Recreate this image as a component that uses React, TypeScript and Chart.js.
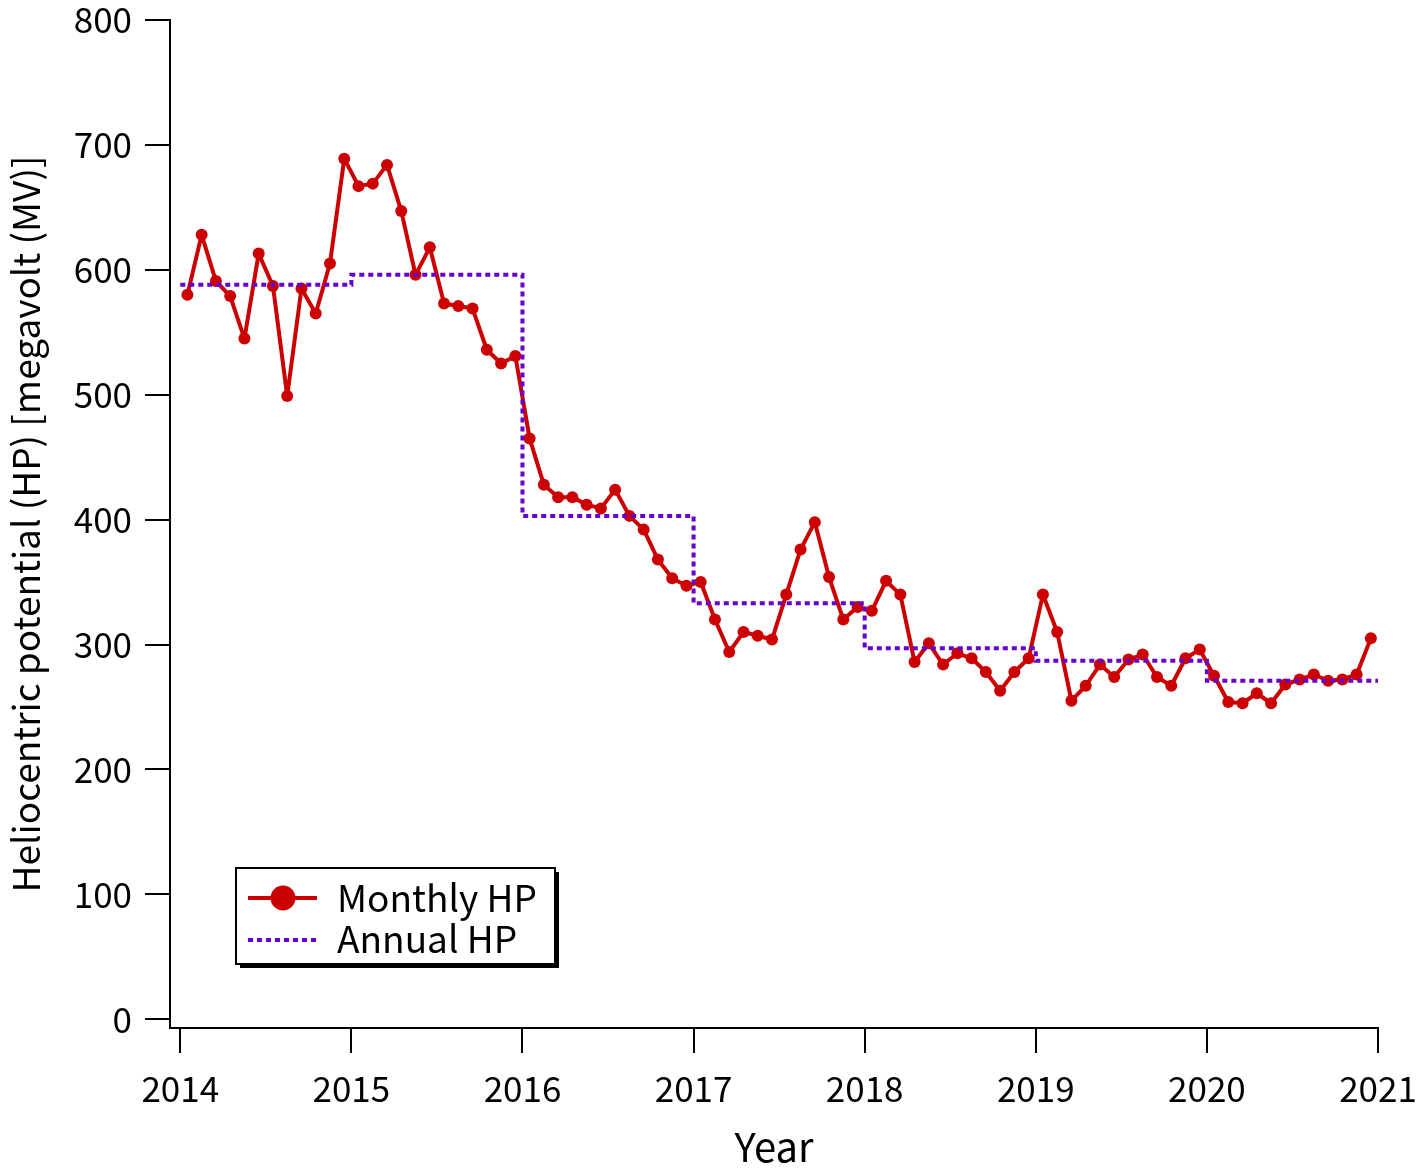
import React, { useEffect, useRef } from 'react';
import { Chart, registerables } from 'chart.js';

Chart.register(...registerables);

const years = [2014, 2015, 2016, 2017, 2018, 2019, 2020];

const hp2014 = [580, 628, 591, 579, 545, 613, 587, 499, 585, 565, 605, 689];
const hp2015 = [667, 669, 684, 647, 596, 618, 573, 571, 569, 536, 525, 531];
const hp2016 = [465, 428, 418, 418, 412, 409, 424, 403, 392, 368, 353, 347];
const hp2017 = [350, 320, 294, 310, 307, 304, 340, 376, 398, 354, 320, 330];
const hp2018 = [327, 351, 340, 286, 301, 284, 293, 289, 278, 263, 278, 289];
const hp2019 = [340, 310, 255, 267, 284, 274, 288, 292, 274, 267, 289, 296];
const hp2020 = [275, 254, 253, 261, 253, 268, 272, 276, 271, 272, 276, 305];

const monthlyByYear = [hp2014, hp2015, hp2016, hp2017, hp2018, hp2019, hp2020];

const annualHP = [588, 596, 403, 333, 297, 287, 271];

const xTicks = [2014, 2015, 2016, 2017, 2018, 2019, 2020, 2021];
const yTicks = [0, 100, 200, 300, 400, 500, 600, 700, 800];

const FONT = '"Noto Sans CJK JP", "Noto Sans", sans-serif';
const RED = '#cc0000';
const PURPLE = '#6600cc';

const monthlyPoints = years.flatMap((yr, i) =>
  monthlyByYear[i].map((v, m) => ({ x: yr + (m + 0.5) / 12, y: v }))
);
const annualPoints = [
  ...years.map((yr, i) => ({ x: yr, y: annualHP[i] })),
  { x: xTicks[xTicks.length - 1], y: annualHP[annualHP.length - 1] },
];

const zeroPadding = (s: any) => {
  s.paddingTop = 0;
  s.paddingBottom = 0;
  s.paddingLeft = 0;
  s.paddingRight = 0;
};

const legendPlugin = {
  id: 'boxLegend',
  afterDraw(chart: any) {
    const { ctx, chartArea: ca } = chart;
    const bx = ca.left + 66;
    const by = ca.bottom - 160;
    const bw = 319;
    const bh = 96;
    ctx.save();
    ctx.fillStyle = '#000';
    ctx.fillRect(bx + 4, by + 4, bw, bh);
    ctx.fillStyle = '#fff';
    ctx.fillRect(bx, by, bw, bh);
    ctx.strokeStyle = '#000';
    ctx.lineWidth = 2;
    ctx.strokeRect(bx, by, bw, bh);

    const y1 = by + 30;
    const y2 = by + 71;
    ctx.strokeStyle = RED;
    ctx.lineWidth = 4;
    ctx.beginPath();
    ctx.moveTo(bx + 12, y1);
    ctx.lineTo(bx + 81, y1);
    ctx.stroke();
    ctx.fillStyle = RED;
    ctx.beginPath();
    ctx.arc(bx + 47, y1, 12.5, 0, Math.PI * 2);
    ctx.fill();

    ctx.strokeStyle = PURPLE;
    ctx.lineWidth = 4;
    ctx.setLineDash([5, 4]);
    ctx.beginPath();
    ctx.moveTo(bx + 12, y2 + 1);
    ctx.lineTo(bx + 81, y2 + 1);
    ctx.stroke();
    ctx.setLineDash([]);

    ctx.fillStyle = '#000';
    ctx.font = `37px ${FONT}`;
    ctx.textBaseline = 'middle';
    ctx.textAlign = 'left';
    ctx.fillText('Monthly HP', bx + 101, y1);
    ctx.fillText('Annual HP', bx + 101, y2);
    ctx.restore();
  },
};

export default function App() {
  const ref = useRef<HTMLCanvasElement | null>(null);

  useEffect(() => {
    if (!ref.current) return;
    const chart = new Chart(ref.current, {
      type: 'line',
      data: {
        datasets: [
          {
            label: 'Monthly HP',
            data: monthlyPoints,
            borderColor: RED,
            backgroundColor: RED,
            borderWidth: 4,
            borderJoinStyle: 'round',
            pointRadius: 6,
            pointBorderWidth: 0,
            pointBorderColor: RED,
            pointBackgroundColor: RED,
            tension: 0,
            fill: false,
            order: 2,
          },
          {
            label: 'Annual HP',
            data: annualPoints,
            borderColor: PURPLE,
            borderWidth: 4,
            borderDash: [5, 4],
            pointRadius: 0,
            stepped: 'before',
            fill: false,
            order: 1,
          },
        ],
      },
      options: {
        animation: false,
        responsive: false,
        devicePixelRatio: 1,
        layout: { padding: { top: 20, right: 40, left: 0, bottom: 0 } },
        plugins: {
          legend: { display: false },
          tooltip: { enabled: false },
        },
        scales: {
          x: {
            type: 'linear',
            min: 2013.94,
            max: 2021,
            afterBuildTicks: (s: any) => {
              s.ticks = xTicks.map((v) => ({ value: v }));
            },
            afterFit: (s: any) => {
              s.height = 141;
              zeroPadding(s);
            },
            grid: {
              drawOnChartArea: false,
              drawTicks: true,
              tickLength: 25,
              color: '#000',
              lineWidth: 2,
            },
            border: { display: true, color: '#000', width: 2 },
            ticks: {
              color: '#000',
              font: { family: FONT, size: 35, lineHeight: 1.1 },
              padding: 16,
              maxRotation: 0,
              autoSkip: false,
              callback: (v: any) => String(v),
            },
            title: {
              display: true,
              text: 'Year',
              color: '#000',
              font: { family: FONT, size: 40, lineHeight: 1.1 },
              padding: { top: 0, bottom: 0 },
            },
          },
          y: {
            type: 'linear',
            min: -7,
            max: 800,
            afterBuildTicks: (s: any) => {
              s.ticks = yTicks.map((v) => ({ value: v }));
            },
            afterFit: (s: any) => {
              s.width = 170;
              zeroPadding(s);
            },
            grid: {
              drawOnChartArea: false,
              drawTicks: true,
              tickLength: 25,
              color: '#000',
              lineWidth: 2,
            },
            border: { display: true, color: '#000', width: 2 },
            ticks: {
              color: '#000',
              font: { family: FONT, size: 35, lineHeight: 1.1 },
              padding: 13,
              autoSkip: false,
              callback: (v: any) => String(v),
            },
            title: {
              display: true,
              text: 'Heliocentric potential (HP) [megavolt (MV)]',
              color: '#000',
              font: { family: FONT, size: 37, lineHeight: 1.2 },
              padding: { top: 4, bottom: 0 },
            },
          },
        },
      },
      plugins: [legendPlugin],
    });
    return () => chart.destroy();
  }, []);

  return (
    <div style={{ position: 'absolute', left: 0, top: 0, width: 1418, height: 1169, background: '#fff' }}>
      <canvas ref={ref} width={1418} height={1169} style={{ display: 'block' }} />
    </div>
  );
}
